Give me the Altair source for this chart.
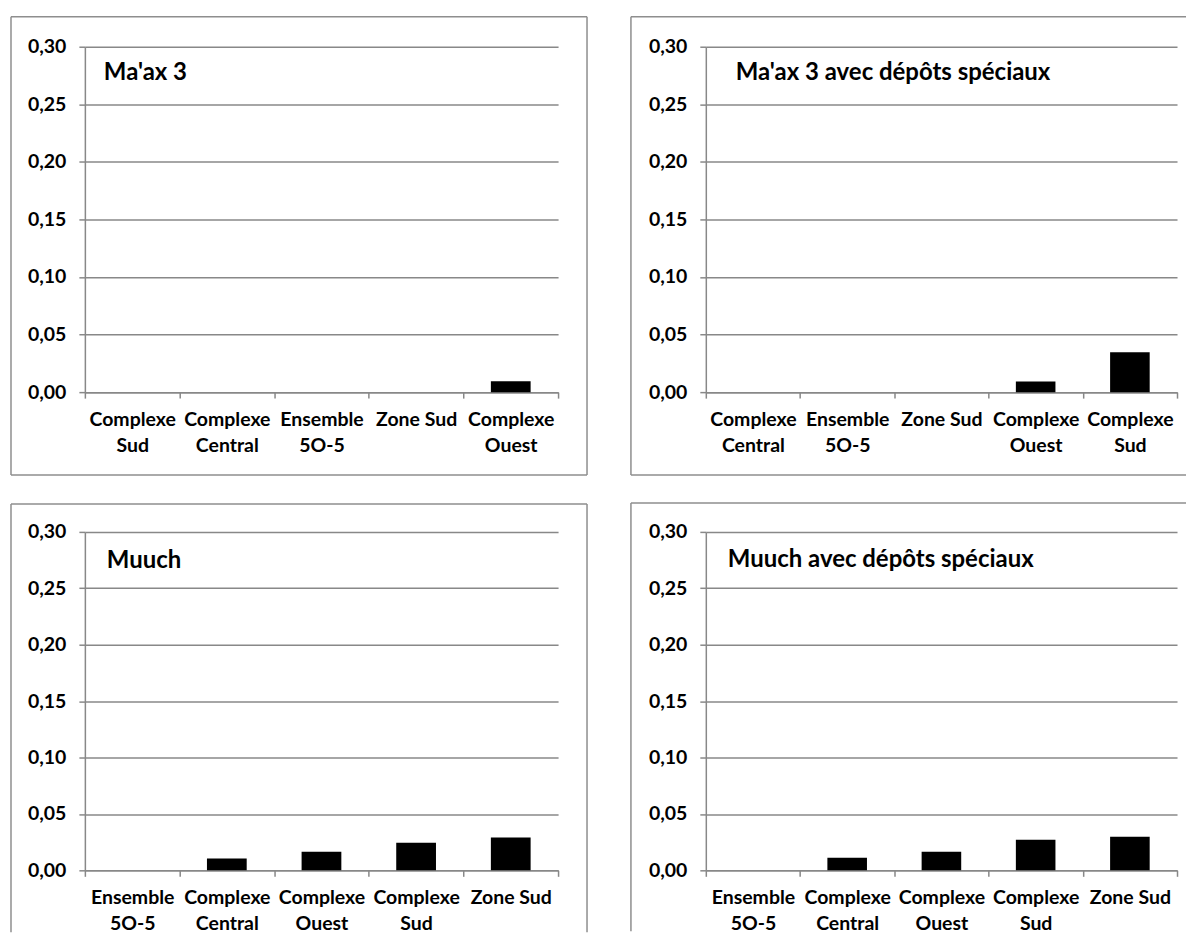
import altair as alt
import pandas as pd

# ---- data ----
cats_1 = ["Complexe|Sud", "Complexe|Central", "Ensemble|5O-5", "Zone Sud", "Complexe|Ouest"]
vals_1 = [0.0, 0.0, 0.0, 0.0, 0.0095]
title_1 = "Ma'ax 3"

cats_2 = ["Complexe|Central", "Ensemble|5O-5", "Zone Sud", "Complexe|Ouest", "Complexe|Sud"]
vals_2 = [0.0, 0.0, 0.0, 0.0092, 0.0346]
title_2 = "Ma'ax 3 avec dépôts spéciaux"

cats_3 = ["Ensemble|5O-5", "Complexe|Central", "Complexe|Ouest", "Complexe|Sud", "Zone Sud"]
vals_3 = [0.0, 0.0105, 0.0165, 0.0245, 0.029]
title_3 = "Muuch"

cats_4 = ["Ensemble|5O-5", "Complexe|Central", "Complexe|Ouest", "Complexe|Sud", "Zone Sud"]
vals_4 = [0.0, 0.0112, 0.0165, 0.027, 0.0298]
title_4 = "Muuch avec dépôts spéciaux"

y_ticks = [0.0, 0.05, 0.10, 0.15, 0.20, 0.25, 0.30]

GRAY = "#888888"
BORDER = "#8e8e8e"
FONT = "Lato"
LBL = 19.5


def rule_h(x1, x2, y, opacity=1.0):
    return alt.Chart(pd.DataFrame({"d": [0]})).mark_rule(
        color=BORDER, strokeWidth=1.5, strokeOpacity=opacity
    ).encode(x=alt.value(x1), x2=alt.value(x2), y=alt.value(y))


def rule_v(x, y1, y2, opacity=1.0):
    return alt.Chart(pd.DataFrame({"d": [0]})).mark_rule(
        color=BORDER, strokeWidth=1.5, strokeOpacity=opacity
    ).encode(x=alt.value(x), y=alt.value(y1), y2=alt.value(y2))


def panel(cats, vals, title, w, h, tx, ty, borders):
    df = pd.DataFrame({"cat": cats, "val": vals})
    bars = alt.Chart(df).mark_bar(
        color="black", width=alt.RelativeBandSize(0.42)
    ).encode(
        x=alt.X(
            "cat:N",
            sort=cats,
            scale=alt.Scale(paddingInner=0, paddingOuter=0),
            axis=alt.Axis(
                title=None,
                labelAngle=0,
                labelExpr="split(datum.label, '|')",
                labelFont=FONT,
                labelFontWeight="bold",
                labelFontSize=LBL,
                labelColor="black",
                labelLineHeight=26,
                labelBaseline="top",
                labelPadding=12,
                labelOverlap=False,
                labelLimit=200,
                tickBand="extent",
                tickSize=6,
                tickColor=GRAY,
                tickWidth=1.5,
                domainColor=GRAY,
                domainWidth=1.5,
                grid=False,
            ),
        ),
        y=alt.Y(
            "val:Q",
            scale=alt.Scale(domain=[0, 0.30], nice=False, zero=True),
            axis=alt.Axis(
                title=None,
                values=y_ticks,
                labelExpr="replace(format(datum.value, '.2f'), '.', ',')",
                labelFont=FONT,
                labelFontWeight="bold",
                labelFontSize=LBL,
                labelColor="black",
                labelPadding=13,
                tickSize=6,
                tickColor=GRAY,
                tickWidth=1.5,
                domainColor=GRAY,
                domainWidth=1.5,
                grid=True,
                gridColor=GRAY,
                gridWidth=1.5,
            ),
        ),
    )
    ttl = alt.Chart(pd.DataFrame({"t": [title]})).mark_text(
        font=FONT, fontWeight="bold", fontSize=24, align="left",
        baseline="alphabetic", color="black"
    ).encode(text="t:N", x=alt.value(tx), y=alt.value(ty))
    layers = [bars, ttl] + borders
    return alt.layer(*layers).properties(width=w, height=h)


p1 = panel(cats_1, vals_1, title_1, 474, 346, 19, 33, [
    rule_h(-74, 503, -30), rule_h(-74, 503, 429),
    rule_v(-74, -30, 429), rule_v(503, -30, 429),
    rule_v(0, -34, 0, opacity=0.0),
])
p2 = panel(cats_2, vals_2, title_2, 472, 346, 30, 33, [
    rule_h(-75, 481, -30), rule_h(-75, 481, 429),
    rule_v(-75, -30, 429),
])
p3 = panel(cats_3, vals_3, title_3, 474, 339, 22, 36, [
    rule_h(-74, 503, -28),
    rule_v(-74, -28, 401), rule_v(503, -28, 401),
])
p4 = panel(cats_4, vals_4, title_4, 472, 339, 22, 35, [
    rule_h(-75, 481, -29),
    rule_v(-75, -29, 400),
])

chart = alt.concat(
    p1, p2, p3, p4, columns=2,
    spacing={"row": 26, "column": 42},
).properties(
    align="each", bounds="full",
    padding={"left": 2, "top": 4, "right": 0, "bottom": 0},
).configure_view(strokeWidth=0)

chart.save("out.html", embed_options={"renderer": "svg", "actions": False})
